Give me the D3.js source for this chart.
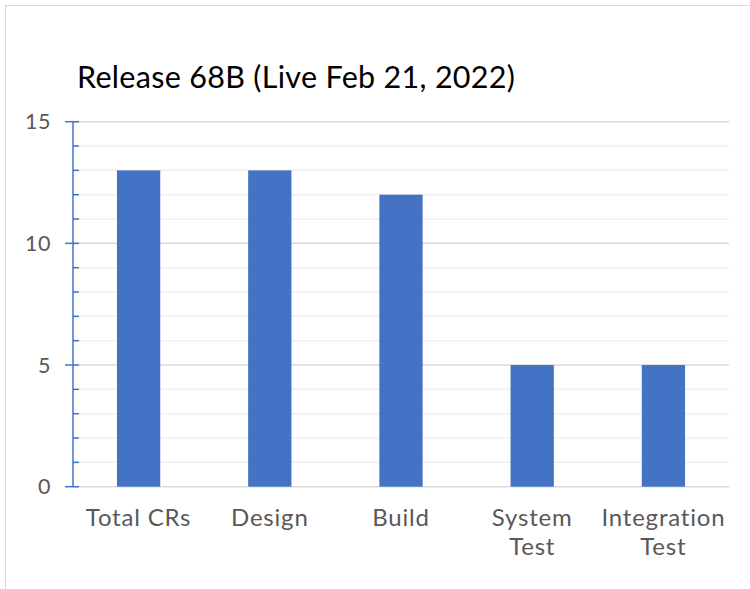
<!DOCTYPE html>
<html><head><meta charset="utf-8">
<script src="https://cdn.jsdelivr.net/npm/d3@7"></script>
<style>body{margin:0;background:#fff}svg{display:block;font-family:"Lato","Open Sans",sans-serif}</style>
</head><body>
<svg id="c" width="750" height="589"></svg>
<script>
const title = "Release 68B (Live Feb 21, 2022)";
const categories = [["Total CRs"], ["Design"], ["Build"], ["System", "Test"], ["Integration", "Test"]];
const values = [13, 13, 12, 5, 5];
const yTicks = [0, 5, 10, 15];

const svg = d3.select("#c");
// chart frame
svg.append("rect").attr("x", 5.5).attr("y", 5.5).attr("width", 760).attr("height", 600)
  .attr("fill", "#fff").attr("stroke", "#d9d9d9");

const m = {left: 73, right: 729, top: 121.7, bottom: 486.7};
const x = d3.scaleBand().domain(d3.range(categories.length)).range([m.left, m.right]).paddingInner(0.67).paddingOuter(0.335);
const y = d3.scaleLinear().domain([0, 15]).range([m.bottom, m.top]);

svg.append("text").attr("x", 77).attr("y", 88).attr("font-size", 30.5)
  .attr("letter-spacing", 0.3).attr("fill", "#000").text(title);

// minor grid
svg.append("g").selectAll("line").data(d3.range(1, 16).filter(v => v % 5 !== 0)).join("line")
  .attr("x1", m.left).attr("x2", m.right).attr("y1", d => y(d)).attr("y2", d => y(d))
  .attr("stroke", "#f0f0f0").attr("stroke-width", 1.5);
// major grid
svg.append("g").selectAll("line").data(yTicks).join("line")
  .attr("x1", m.left).attr("x2", m.right).attr("y1", d => y(d)).attr("y2", d => y(d))
  .attr("stroke", "#d9d9d9").attr("stroke-width", 1.5);

// bars
svg.append("g").selectAll("rect").data(values).join("rect")
  .attr("x", (d, i) => x(i)).attr("width", x.bandwidth())
  .attr("y", d => y(d)).attr("height", d => y(0) - y(d))
  .attr("fill", "#4472c4");

// y axis
const ax = svg.append("g").attr("transform", `translate(${m.left},0)`);
ax.append("line").attr("y1", y(15)).attr("y2", y(0)).attr("stroke", "#4472c4").attr("stroke-width", 1.5);
ax.selectAll(".minor").data(d3.range(0, 16).filter(v => v % 5 !== 0)).join("line")
  .attr("x1", 0).attr("x2", 6).attr("y1", d => y(d)).attr("y2", d => y(d))
  .attr("stroke", "#4472c4").attr("stroke-width", 1.5);
ax.selectAll(".major").data(yTicks).join("line")
  .attr("x1", -8).attr("x2", 6).attr("y1", d => y(d)).attr("y2", d => y(d))
  .attr("stroke", "#4472c4").attr("stroke-width", 1.5);
ax.selectAll("text").data(yTicks).join("text")
  .attr("x", -22).attr("y", d => y(d)).attr("dy", "0.36em").attr("text-anchor", "end")
  .attr("font-size", 21.5).attr("letter-spacing", 0.5).attr("fill", "#595959").text(d => d);

// x labels
const xl = svg.append("g").selectAll("text").data(categories).join("text")
  .attr("x", (d, i) => x(i) + x.bandwidth() / 2).attr("y", 526)
  .attr("text-anchor", "middle").attr("font-size", 24).attr("letter-spacing", 0.8).attr("fill", "#595959");
xl.selectAll("tspan").data(d => d).join("tspan")
  .attr("x", function() { return this.parentNode.getAttribute("x"); })
  .attr("dy", (d, i) => i === 0 ? 0 : 28.5).text(d => d);
</script>
</body></html>
